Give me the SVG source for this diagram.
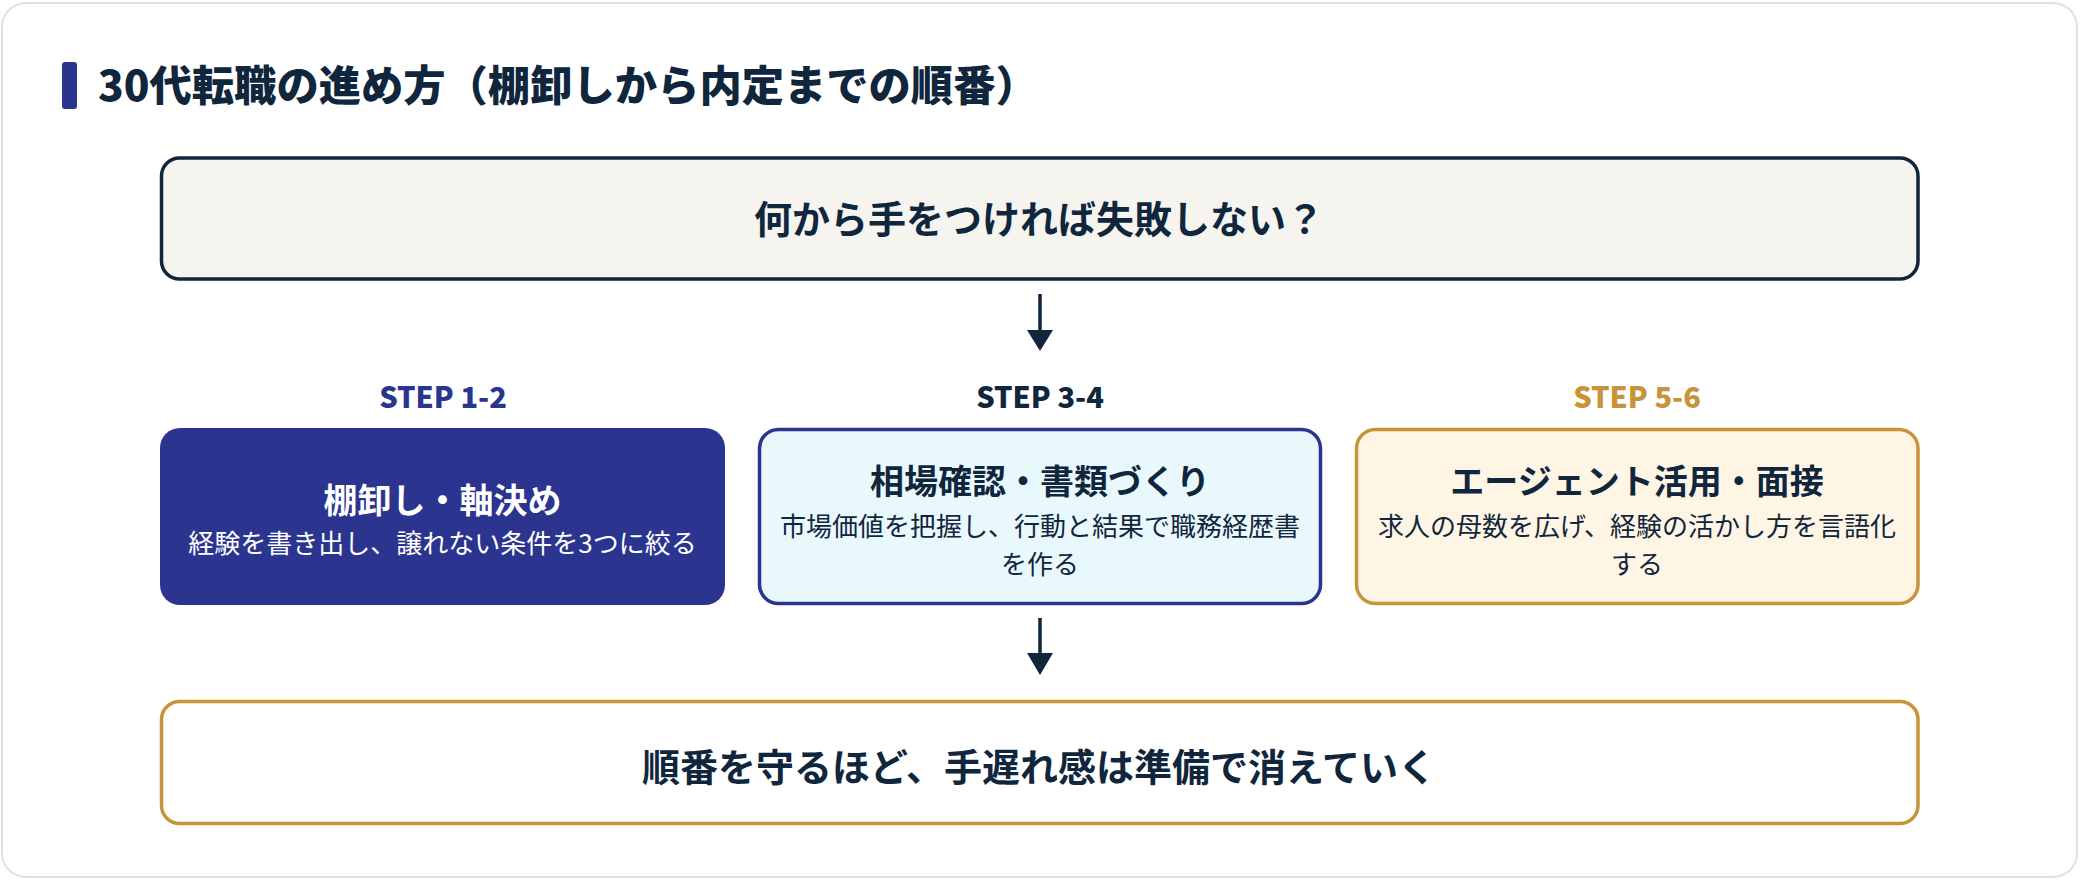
<svg xmlns="http://www.w3.org/2000/svg" width="2080" height="880" viewBox="0 0 2080 880">
<style>
.jp{font-family:"Noto Sans CJK JP","Noto Sans",sans-serif;}
.title{font-size:42.3px;font-weight:800;fill:#10263d;}
.big{font-size:38px;font-weight:700;fill:#10263d;text-anchor:middle;}
.step{font-size:29px;font-weight:800;text-anchor:middle;}
.ht{font-size:34px;font-weight:700;text-anchor:middle;}
.sub{font-size:26px;font-weight:400;text-anchor:middle;}
.conn line{stroke:#10263d;stroke-width:3.5;}
.conn polygon{fill:#10263d;}
</style>
<rect x="2" y="3" width="2075" height="874" rx="24" fill="#ffffff" stroke="#e4e2d8" stroke-width="2"/>
<g id="title">
<rect x="62" y="62" width="15" height="47" rx="3" fill="#2b3590"/>
<text class="jp title" x="98" y="101">30代転職の進め方（棚卸しから内定までの順番）</text>
</g>
<g id="question">
<rect x="161.5" y="158" width="1756.5" height="121" rx="18" fill="#f5f4ef" stroke="#10263d" stroke-width="3.5"/>
<text class="jp big" x="1039" y="233">何から手をつければ失敗しない？</text>
</g>
<g id="step12">
<text class="jp step" x="443" y="408" fill="#2b3590">STEP 1-2</text>
<rect x="160" y="428" width="565" height="177" rx="20" fill="#2b3590"/>
<text class="jp ht" x="442.5" y="513" fill="#ffffff">棚卸し・軸決め</text>
<text class="jp sub" x="442.5" y="553" fill="#ffffff">経験を書き出し、譲れない条件を3つに絞る</text>
</g>
<g id="step34">
<text class="jp step" x="1040" y="408" fill="#10263d">STEP 3-4</text>
<rect x="759.5" y="429.5" width="561" height="174" rx="19" fill="#e9f8fd" stroke="#2b3590" stroke-width="3.5"/>
<text class="jp ht" x="1040" y="494" fill="#10263d">相場確認・書類づくり</text>
<text class="jp sub" x="1040" y="536" fill="#10263d">市場価値を把握し、行動と結果で職務経歴書</text>
<text class="jp sub" x="1040" y="574" fill="#10263d">を作る</text>
</g>
<g id="step56">
<text class="jp step" x="1637" y="408" fill="#c8943a">STEP 5-6</text>
<rect x="1356.5" y="429.5" width="561.5" height="174" rx="19" fill="#fef5e5" stroke="#c8943a" stroke-width="3.5"/>
<text class="jp ht" x="1637" y="494" fill="#10263d">エージェント活用・面接</text>
<text class="jp sub" x="1637" y="536" fill="#10263d">求人の母数を広げ、経験の活かし方を言語化</text>
<text class="jp sub" x="1637" y="574" fill="#10263d">する</text>
</g>
<g id="conclusion">
<rect x="161.5" y="701.5" width="1756.5" height="122" rx="18" fill="#ffffff" stroke="#c8943a" stroke-width="3.5"/>
<text class="jp big" x="1039" y="781">順番を守るほど、手遅れ感は準備で消えていく</text>
</g>
<g id="connectors" class="conn">
<line x1="1040" y1="294" x2="1040" y2="332"/>
<polygon points="1027,330 1053,330 1040,351"/>
<line x1="1040" y1="618" x2="1040" y2="655"/>
<polygon points="1027,653 1053,653 1040,675"/>
</g>
</svg>
